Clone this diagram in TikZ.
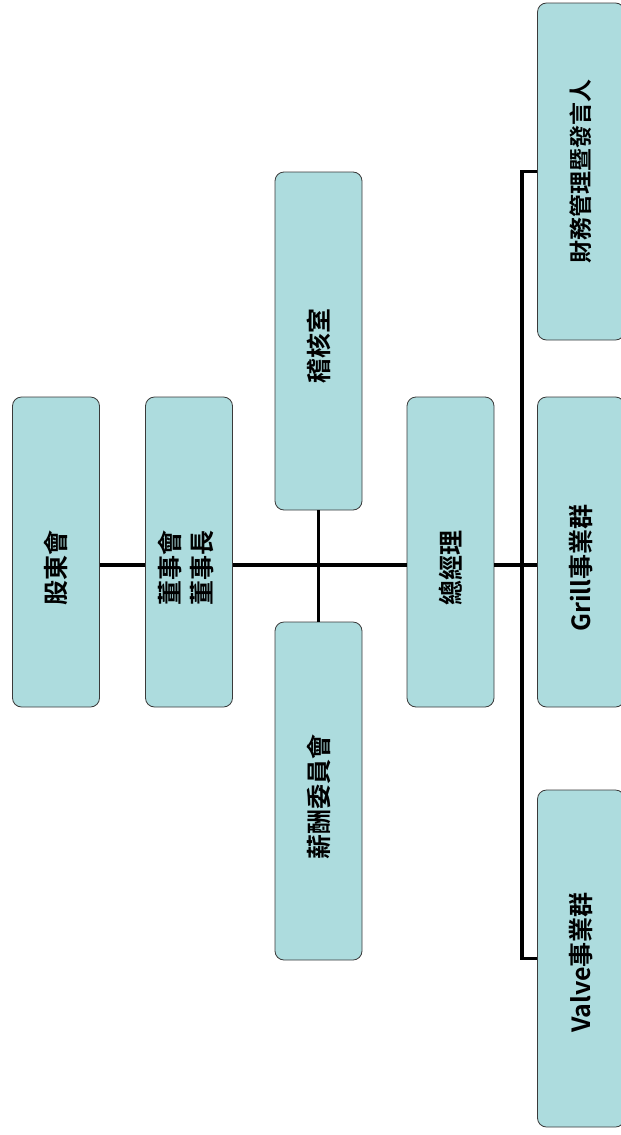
\documentclass[tikz,border=0pt]{standalone}
\usepackage{fontspec}
\newfontfamily\cjk{Noto Sans CJK TC}[BoldFont={* Bold}]
\usepackage{graphicx}
\definecolor{boxfill}{HTML}{ADDCDE}
\definecolor{boxline}{HTML}{3A3A3A}
\newcommand{\vtext}[2][0pt]{\rotatebox{90}{#2\hspace{#1}}}
\tikzset{
  orgbox/.style={draw=boxline, line width=0.8pt, fill=boxfill, rounded corners=9pt,
    minimum width=87pt, inner sep=0pt, font=\cjk\bfseries\fontsize{25}{34}\selectfont, align=center},
  wire/.style={draw=black, line width=3.2pt}
}
\begin{document}
\begin{tikzpicture}[x=1pt,y=-1pt]
\useasboundingbox (0,0) rectangle (621,1135);
\node[orgbox, minimum height=310pt] (gd) at (56,552) {\vtext[32pt]{股東會}};
\node[orgbox, minimum height=310pt] (ds) at (189,552) {\vtext[32pt]{\begin{tabular}{@{}c@{}}董事會\\[-2pt]董事長\end{tabular}}};
\node[orgbox, minimum height=338pt] (jh) at (318.5,341) {\vtext[10pt]{稽核室}};
\node[orgbox, minimum height=338pt] (xc) at (318.5,791) {\vtext[12pt]{薪酬委員會}};
\node[orgbox, minimum height=310pt] (zj) at (450.5,552) {\vtext[32pt]{總經理}};
\node[orgbox, minimum height=337pt, font=\cjk\bfseries\fontsize{23}{30}\selectfont] (cw) at (581,171.5) {\vtext{財務管理暨發言人}};
\node[orgbox, minimum height=310pt] (gr) at (581,552) {\vtext[32pt]{Grill事業群}};
\node[orgbox, minimum height=337pt] (va) at (581,958.5) {\vtext[8pt]{Valve事業群}};
\coordinate (ly) at (0,565);
\coordinate (tx) at (522,0);
\draw[wire] (gd.east |- ly) -- (ds.west |- ly);
\draw[wire] (ds.east |- ly) -- (zj.west |- ly);
\draw[wire] (jh.south) -- (xc.north);
\draw[wire] (zj.east |- ly) -- (gr.west |- ly);
\draw[wire] (cw.west) -- (tx |- cw.west) -- (tx |- va.west) -- (va.west);
\end{tikzpicture}
\end{document}
